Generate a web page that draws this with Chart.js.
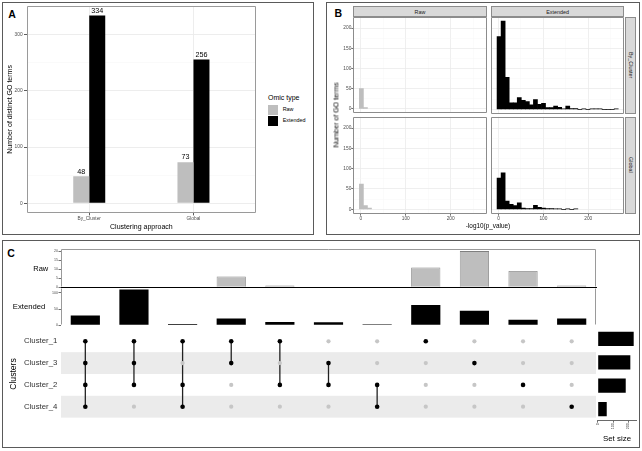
<!DOCTYPE html>
<html><head><meta charset="utf-8">
<script src="https://cdn.jsdelivr.net/npm/chart.js@4.4.1/dist/chart.umd.min.js"></script>
<style>
html,body{margin:0;padding:0;background:#fff;}
#root{position:relative;width:642px;height:451px;overflow:hidden;font-family:"Liberation Sans",Arial,sans-serif;background:#fff;}
canvas{position:absolute;}
.t{position:absolute;white-space:nowrap;}
.frame{position:absolute;border:1px solid #5a5a5a;box-sizing:border-box;}
.strip{position:absolute;background:#D9D9D9;border:1px solid #8c8c8c;box-sizing:border-box;color:#1A1A1A;font-size:5.4px;display:flex;align-items:center;justify-content:center;}
</style></head><body><div id="root"></div>
<script>
// ---------- DATA ----------
// Panel A
const A_CATEGORIES = ['By_Cluster', 'Global'];
const A_RAW = [48, 73];
const A_EXT = [334, 256];
const A_Y_TICKS = [0, 100, 200, 300];
const OMIC_TYPES = ['Raw', 'Extended'];

// Panel B (histograms of -log10(p_value))
const B_BIN_CENTERS = [1.3,10.3,19.3,28.3,37.3,46.3,55.3,64.3,73.3,82.3,91.3,100.3,109.3,118.3,127.3,136.3,145.3,154.3,163.3,172.3,181.3,190.3,199.3,208.3,217.3,226.3,235.3,244.3,253.3,262.3];
const B_RAW_BYCLUSTER = [50, 3];
const B_RAW_GLOBAL = [62, 9, 3];
const B_EXT_BYCLUSTER = [179,217,79,16,16,29,22,19,11,24,12,15,4,4,8,5,1,8,2,2,0,1,0,1,1,1,0,0,0,1];
const B_EXT_GLOBAL = [77,90,20,12,9,16,3,2,2,10,5,3,2,2,1,1,0,1,0,1];
const B_Y_TICKS = [0, 50, 100, 150, 200];
const B_X_TICKS = [0, 100, 200];
const B_COLS = ['Raw', 'Extended'];
const B_ROWS = ['By_Cluster', 'Global'];

// Panel C (UpSet)
const C_SETS = ['Cluster_1', 'Cluster_3', 'Cluster_2', 'Cluster_4'];
const C_SET_SIZES = [235, 213, 183, 59];
const C_INTERSECTIONS = [
  ['Cluster_1','Cluster_3','Cluster_2','Cluster_4'],
  ['Cluster_1','Cluster_3','Cluster_2'],
  ['Cluster_1','Cluster_2','Cluster_4'],
  ['Cluster_1','Cluster_3'],
  ['Cluster_1','Cluster_2'],
  ['Cluster_3','Cluster_2'],
  ['Cluster_2','Cluster_4'],
  ['Cluster_1'],
  ['Cluster_3'],
  ['Cluster_2'],
  ['Cluster_4']
];
const C_RAW = [0, 0, 0, 6, 1, 0, 0, 11, 20, 9, 1];
const C_EXT = [30, 110, 4, 21, 10, 9, 3, 62, 45, 17, 21];
const C_RAW_TICKS = [0, 5, 10, 15, 20];
const C_EXT_TICKS = [0, 50, 100];
const C_SET_TICKS = [0, 100, 200];

// ---------- HELPERS ----------
Chart.defaults.font.family = '"Liberation Sans", Arial, sans-serif';
Chart.defaults.animation = false;
const root = document.getElementById('root');
const GREY = '#BEBEBE';

function mkCanvas(left, top, w, h) {
  const c = document.createElement('canvas');
  c.width = w; c.height = h;
  c.style.left = left + 'px'; c.style.top = top + 'px';
  c.style.width = w + 'px'; c.style.height = h + 'px';
  root.appendChild(c);
  return c;
}
function div(cls, x, y, w, h) {
  const d = document.createElement('div'); d.className = cls;
  d.style.left = x + 'px'; d.style.top = y + 'px'; d.style.width = w + 'px'; d.style.height = h + 'px';
  root.appendChild(d); return d;
}
function txt(s, x, y, size, o = {}) {
  const d = document.createElement('div'); d.className = 't'; d.textContent = s;
  d.style.fontSize = size + 'px'; d.style.lineHeight = size + 'px';
  d.style.color = o.color || '#000'; d.style.fontWeight = o.weight || 'normal';
  d.style.left = x + 'px'; d.style.top = y + 'px';
  if (o.vertical) {
    d.style.writingMode = 'vertical-rl';
    d.style.transform = 'translate(-50%,-50%) rotate(180deg)';
  } else {
    const tx = o.align === 'center' ? '-50%' : o.align === 'right' ? '-100%' : '0';
    d.style.transform = `translate(${tx},-50%)`;
  }
  root.appendChild(d); return d;
}
function withMinor(major, lo, hi) {
  const step = major[1] - major[0];
  const out = [];
  for (let v = major[0] - step / 2; v <= major[major.length - 1] + step / 2 + 1e-9; v += step / 2) {
    if (v >= lo && v <= hi) out.push(Math.round(v * 1000) / 1000);
  }
  return out;
}
const setTicks = arr => s => { s.ticks = arr.map(v => ({ value: v })); };

const boxPlugin = {
  id: 'box',
  afterDraw(chart, args, o) {
    if (!o || !o.color) return;
    const { ctx, chartArea: a } = chart;
    const s = o.sides || 'tlrb';
    ctx.save(); ctx.strokeStyle = o.color; ctx.lineWidth = o.width || 1;
    const L = Math.round(a.left) + 0.5, R = Math.round(a.right) - 0.5, T = Math.round(a.top) + 0.5, B = Math.round(a.bottom) - 0.5;
    ctx.beginPath();
    if (s.includes('t')) { ctx.moveTo(L, T); ctx.lineTo(R, T); }
    if (s.includes('b')) { ctx.moveTo(L, B); ctx.lineTo(R, B); }
    if (s.includes('l')) { ctx.moveTo(L, T); ctx.lineTo(L, B); }
    if (s.includes('r')) { ctx.moveTo(R, T); ctx.lineTo(R, B); }
    ctx.stroke(); ctx.restore();
  }
};
const barLabelPlugin = {
  id: 'barLabels',
  afterDatasetsDraw(chart) {
    const ctx = chart.ctx;
    ctx.save(); ctx.font = '7.2px "Liberation Sans", Arial, sans-serif';
    ctx.fillStyle = '#000'; ctx.textAlign = 'center'; ctx.textBaseline = 'middle';
    chart.data.datasets.forEach((ds, di) => {
      chart.getDatasetMeta(di).data.forEach((el, i) => ctx.fillText(String(ds.data[i].y), el.x, el.y - 4.8));
    });
    ctx.restore();
  }
};
const bandPlugin = {
  id: 'bands',
  beforeDatasetsDraw(chart, args, o) {
    const { ctx, chartArea: a, scales: { y } } = chart;
    ctx.save(); ctx.fillStyle = o.color;
    C_SETS.forEach((s, r) => {
      if (r % 2 !== 1) return;
      const y1 = y.getPixelForValue(r - 0.5), y2 = y.getPixelForValue(r + 0.5);
      ctx.fillRect(a.left, Math.min(y1, y2), a.right - a.left, Math.abs(y2 - y1));
    });
    ctx.restore();
  }
};
const baseOpts = { responsive: false, animation: false, devicePixelRatio: 1, events: [] };

// ---------- FRAMES ----------
div('frame', 2, 2, 312, 233);
div('frame', 326, 2, 314, 233);
div('frame', 2, 240, 638, 208);
txt('A', 8.3, 13.6, 10.5, { weight: 'bold' });
txt('B', 334.5, 12.5, 10.5, { weight: 'bold' });
txt('C', 7.3, 252.8, 10.5, { weight: 'bold' });

// ---------- PANEL A ----------
(function () {
  const yMin = -16.7, yMax = 350.7;
  const isMajor = c => c.tick && A_Y_TICKS.includes(c.tick.value);
  new Chart(mkCanvas(0, 0, 262, 232), {
    type: 'bar',
    data: {
      datasets: [
        { label: OMIC_TYPES[0], data: A_CATEGORIES.map((c, i) => ({ x: i + 1, y: A_RAW[i] })), backgroundColor: GREY, barPercentage: 1, categoryPercentage: 0.307 },
        { label: OMIC_TYPES[1], data: A_CATEGORIES.map((c, i) => ({ x: i + 1, y: A_EXT[i] })), backgroundColor: '#000', barPercentage: 1, categoryPercentage: 0.307 }
      ]
    },
    options: Object.assign({}, baseOpts, {
      layout: { padding: { left: 0, top: 6.2, right: 6, bottom: 0 } },
      plugins: { legend: { display: false }, tooltip: { enabled: false }, box: { color: '#9a9a9a', width: 1 } },
      scales: {
        x: {
          type: 'linear', min: 0.4, max: 2.6, offset: false,
          afterBuildTicks: s => { s.ticks = A_CATEGORIES.map((c, i) => ({ value: i + 1 })); },
          afterFit: s => { s.height = 19.3; },
          ticks: { callback: v => A_CATEGORIES[v - 1], font: { size: 4.8 }, color: '#4D4D4D', padding: 0.4, autoSkip: false, maxRotation: 0 },
          grid: { offset: false, color: '#EBEBEB', lineWidth: 0.9, tickLength: 2.7, tickColor: '#333', tickWidth: 0.8 },
          border: { display: false },
          title: { display: true, text: 'Clustering approach', font: { size: 7 }, color: '#000', padding: { top: 0, bottom: 1.1 } }
        },
        y: {
          type: 'linear', min: yMin, max: yMax,
          afterBuildTicks: setTicks(withMinor(A_Y_TICKS, yMin, yMax)),
          afterFit: s => { s.width = 26.7; },
          ticks: { callback: v => A_Y_TICKS.includes(v) ? String(v) : '', font: { size: 4.8 }, color: '#4D4D4D', padding: 1.4 },
          grid: { color: c => isMajor(c) ? '#EBEBEB' : '#F5F5F5', lineWidth: c => isMajor(c) ? 0.9 : 0.5, tickLength: 2.7, tickColor: c => isMajor(c) ? '#333' : 'rgba(0,0,0,0)', tickWidth: 0.8 },
          border: { display: false },
          title: { display: true, text: 'Number of distinct GO terms', font: { size: 7 }, color: '#000', padding: { top: 5.8, bottom: 0 } }
        }
      }
    }),
    plugins: [boxPlugin, barLabelPlugin]
  });
  // legend
  txt('Omic type', 268, 97.3, 7);
  const colors = [GREY, '#000'];
  OMIC_TYPES.forEach((t, i) => {
    const k = div('t', 268.3, 104.5 + i * 11.3, 10, 10.6); k.style.background = colors[i];
    txt(t, 282.7, 110 + i * 11.2, 5.4);
  });
})();

// ---------- PANEL B ----------
(function () {
  const xMin = -16.7, xMax = 280.3, yMin = -10.85, yMax = 227.85;
  const majX = c => c.tick && B_X_TICKS.includes(c.tick.value);
  const majY = c => c.tick && B_Y_TICKS.includes(c.tick.value);
  function facet(cl, ct, w, h, area, counts, color, showY, showX) {
    const yW = showY ? area.l - cl : 0;
    const xH = showX ? 10 : 0;
    const pad = { left: area.l - cl - yW, top: area.t - ct, right: cl + w - area.r, bottom: ct + h - area.b - xH };
    new Chart(mkCanvas(cl, ct, w, h), {
      type: 'bar',
      data: { datasets: [{ data: counts.map((c, i) => ({ x: B_BIN_CENTERS[i], y: c })), backgroundColor: color, barPercentage: 1, categoryPercentage: 1 }] },
      options: Object.assign({}, baseOpts, {
        layout: { padding: pad },
        plugins: { legend: { display: false }, tooltip: { enabled: false }, box: { color: '#8c8c8c', width: 1 } },
        scales: {
          x: {
            type: 'linear', min: xMin, max: xMax, offset: false,
            afterBuildTicks: setTicks(withMinor(B_X_TICKS, xMin, xMax)),
            afterFit: s => { s.height = xH; },
            ticks: { display: showX, callback: v => B_X_TICKS.includes(v) ? String(v) : '', font: { size: 4.8 }, color: '#4D4D4D', padding: 0, autoSkip: false, maxRotation: 0 },
            grid: { offset: false, color: c => majX(c) ? '#EBEBEB' : '#F5F5F5', lineWidth: c => majX(c) ? 0.8 : 0.45, drawTicks: showX, tickLength: 2, tickColor: c => majX(c) ? '#333' : 'rgba(0,0,0,0)', tickWidth: 0.7 },
            border: { display: false }
          },
          y: {
            type: 'linear', min: yMin, max: yMax,
            afterBuildTicks: setTicks(withMinor(B_Y_TICKS, yMin, yMax)),
            afterFit: s => { s.width = yW; },
            ticks: { display: showY, callback: v => B_Y_TICKS.includes(v) ? String(v) : '', font: { size: 4.8 }, color: '#4D4D4D', padding: 0 },
            grid: { color: c => majY(c) ? '#EBEBEB' : '#F5F5F5', lineWidth: c => majY(c) ? 0.8 : 0.45, drawTicks: showY, tickLength: 2, tickColor: c => majY(c) ? '#333' : 'rgba(0,0,0,0)', tickWidth: 0.7 },
            border: { display: false }
          }
        }
      }),
      plugins: [boxPlugin]
    });
  }
  const L = [353.3, 486.7], R = [491, 624.3], T = [16.8, 113.7], Bt = [116.8, 213.7];
  facet(330, 12, 160, 104, { l: L[0], t: T[0], r: L[1], b: T[1] }, B_RAW_BYCLUSTER, GREY, true, false);
  facet(330, 112, 160, 116, { l: L[0], t: Bt[0], r: L[1], b: Bt[1] }, B_RAW_GLOBAL, GREY, true, true);
  facet(488, 12, 140, 104, { l: R[0], t: T[0], r: R[1], b: T[1] }, B_EXT_BYCLUSTER, '#000', false, false);
  facet(488, 112, 140, 116, { l: R[0], t: Bt[0], r: R[1], b: Bt[1] }, B_EXT_GLOBAL, '#000', false, true);
  // strips
  const colX = [L, R];
  B_COLS.forEach((c, i) => { const s = div('strip', colX[i][0], 6, colX[i][1] - colX[i][0], 11.3); s.textContent = c; });
  const rowY = [T, Bt];
  B_ROWS.forEach((r, i) => {
    const s = div('strip', 624.8, rowY[i][0], 11.5, rowY[i][1] - rowY[i][0]);
    s.textContent = r; s.style.writingMode = 'vertical-rl';
  });
  txt('Number of GO terms', 336, 115, 7, { vertical: true });
  txt('-log10(p_value)', 488, 226, 6.4, { align: 'center' });
})();

// ---------- PANEL C ----------
(function () {
  const labels = C_INTERSECTIONS.map(m => m.join('&'));
  const tickFont = { size: 3.6 };
  // Raw bars
  new Chart(mkCanvas(30, 245, 570, 45), {
    type: 'bar',
    data: { labels, datasets: [{ data: C_RAW, backgroundColor: GREY, borderColor: '#7F7F7F', borderWidth: 0.8, barPercentage: 0.6, categoryPercentage: 1 }] },
    options: Object.assign({}, baseOpts, {
      layout: { padding: { left: 0, top: 4.3, right: 4, bottom: 2.7 } },
      plugins: { legend: { display: false }, tooltip: { enabled: false }, box: { color: '#9a9a9a', width: 1, sides: 'tlr' } },
      scales: {
        x: { afterFit: s => { s.height = 0; }, ticks: { display: false }, grid: { display: false, drawTicks: false }, border: { display: true, color: '#000', width: 1 } },
        y: {
          min: 0, max: 21, afterBuildTicks: setTicks(C_RAW_TICKS), afterFit: s => { s.width = 31; },
          ticks: { font: tickFont, color: '#4D4D4D', padding: 0.5 },
          grid: { drawOnChartArea: false, tickLength: 2.5, tickColor: '#333', tickWidth: 0.7 }, border: { display: false }
        }
      }
    }),
    plugins: [boxPlugin]
  });
  // Extended bars
  new Chart(mkCanvas(30, 285, 570, 44), {
    type: 'bar',
    data: { labels, datasets: [{ data: C_EXT, backgroundColor: '#000', barPercentage: 0.6, categoryPercentage: 1 }] },
    options: Object.assign({}, baseOpts, {
      layout: { padding: { left: 0, top: 2.3, right: 4, bottom: 3.7 } },
      plugins: { legend: { display: false }, tooltip: { enabled: false }, box: { color: '#9a9a9a', width: 1, sides: 'lr' } },
      scales: {
        x: { afterFit: s => { s.height = 0; }, ticks: { display: false }, grid: { display: false, drawTicks: false }, border: { display: false } },
        y: {
          min: 0, max: 115.5, afterBuildTicks: setTicks(C_EXT_TICKS), afterFit: s => { s.width = 31; },
          ticks: { font: tickFont, color: '#4D4D4D', padding: 0.5 },
          grid: { drawOnChartArea: false, tickLength: 2.5, tickColor: '#333', tickWidth: 0.7 }, border: { display: false }
        }
      }
    }),
    plugins: [boxPlugin]
  });
  txt(OMIC_TYPES[0], 48.3, 269, 7.5, { align: 'right' });
  txt(OMIC_TYPES[1], 45.3, 306.7, 7.7, { align: 'right' });

  // Matrix
  const present = [], absent = [];
  C_INTERSECTIONS.forEach((m, i) => C_SETS.forEach((s, r) => (m.includes(s) ? present : absent).push({ x: i, y: r })));
  const lines = [];
  C_INTERSECTIONS.forEach((m, i) => {
    if (m.length < 2) return;
    const rows = m.map(s => C_SETS.indexOf(s));
    lines.push({ type: 'line', data: [{ x: i, y: Math.min(...rows) }, { x: i, y: Math.max(...rows) }], showLine: true, borderColor: '#222', borderWidth: 1.3, pointRadius: 0 });
  });
  new Chart(mkCanvas(0, 322, 600, 104), {
    type: 'scatter',
    data: {
      datasets: [
        { data: present, backgroundColor: '#000', borderWidth: 0, pointRadius: 2.3 },
        { data: absent, backgroundColor: '#C6C6C6', borderWidth: 0, pointRadius: 2.1 }
      ].concat(lines)
    },
    options: Object.assign({}, baseOpts, {
      layout: { padding: { left: 0, top: 5.3, right: 4, bottom: 5.3 } },
      plugins: { legend: { display: false }, tooltip: { enabled: false }, bands: { color: '#EBEBEB' } },
      scales: {
        x: { type: 'linear', min: -0.5, max: C_INTERSECTIONS.length - 0.5, display: false },
        y: {
          type: 'linear', min: -0.5, max: C_SETS.length - 0.5, reverse: true,
          afterBuildTicks: s => { s.ticks = C_SETS.map((c, i) => ({ value: i })); },
          afterFit: s => { s.width = 61; },
          ticks: { callback: v => C_SETS[v], font: { size: 7.8 }, color: '#333', padding: 3.7 },
          grid: { display: false, drawTicks: false }, border: { display: false },
          title: { display: true, text: 'Clusters', font: { size: 8.6 }, color: '#000', padding: { top: 8.8, bottom: 0 } }
        }
      }
    }),
    plugins: [bandPlugin]
  });

  // Set size
  new Chart(mkCanvas(592, 322, 48, 126), {
    type: 'bar',
    data: { labels: C_SETS, datasets: [{ data: C_SET_SIZES, backgroundColor: '#000', barPercentage: 0.61, categoryPercentage: 1 }] },
    options: Object.assign({}, baseOpts, {
      indexAxis: 'y',
      layout: { padding: { left: 5.7, top: 5.3, right: 3.7, bottom: 0 } },
      plugins: { legend: { display: false }, tooltip: { enabled: false } },
      scales: {
        y: { type: 'category', display: false },
        x: {
          type: 'linear', min: 0, max: 252, afterBuildTicks: setTicks(C_SET_TICKS),
          afterFit: s => { s.height = 27.3; },
          ticks: { font: tickFont, color: '#333', minRotation: 90, maxRotation: 90, autoSkip: false, padding: 0.5 },
          grid: { drawOnChartArea: false, tickLength: 2, tickColor: '#333', tickWidth: 0.7 },
          border: { display: true, color: '#444', width: 0.8 },
          title: { display: true, text: 'Set size', font: { size: 7.9 }, color: '#000', padding: { top: 0, bottom: 4.8 } }
        }
      }
    })
  });
})();
</script></body></html>
